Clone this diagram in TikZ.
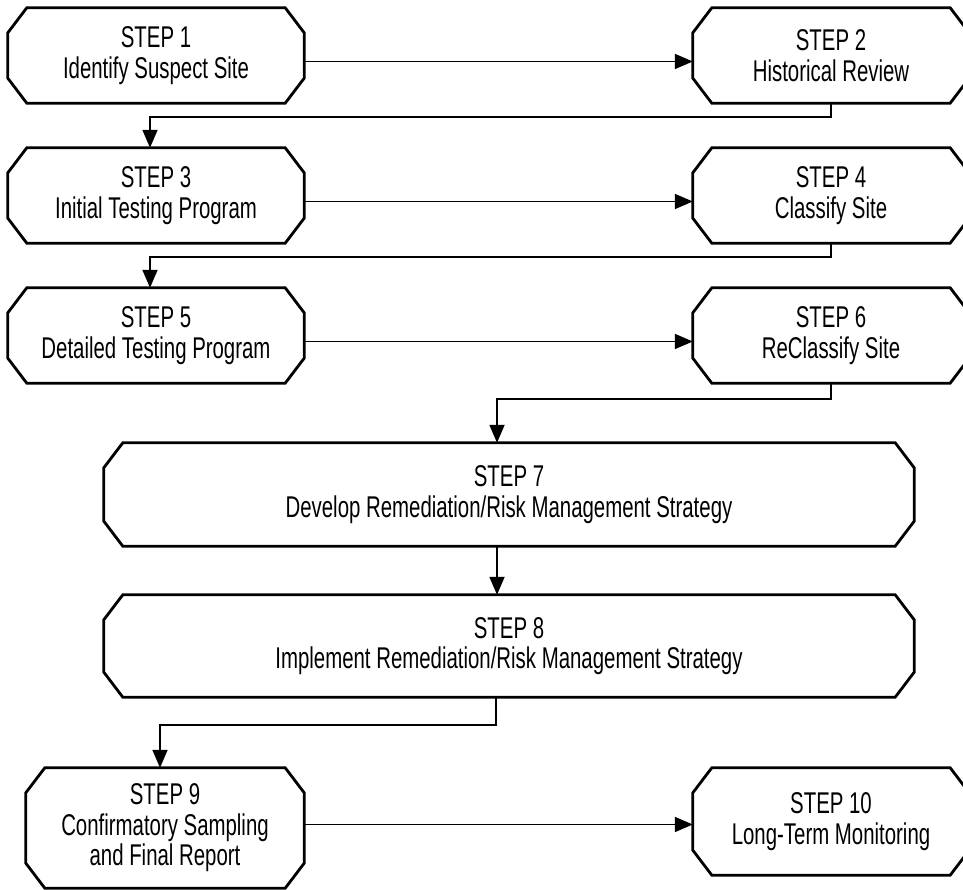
\documentclass[tikz,border=0pt]{standalone}
\usepackage{fontspec}
\setmainfont{Liberation Sans}[FakeStretch=0.68]
\usetikzlibrary{arrows.meta}

\begin{document}
\begin{tikzpicture}[x=1pt,y=1pt,
  stepbox/.style={inner sep=0pt,align=center,font=\fontsize{30}{30.5}\selectfont},
  link/.style={line width=1.8pt,-{Triangle[length=18pt,width=15pt]}}]

\useasboundingbox (0,0) rectangle (963,890);

% left column, right column
\node[stepbox,minimum width=296pt,minimum height=95pt] (s1) at (156,834.5) {STEP 1\\Identify Suspect Site};
\node[stepbox,minimum width=276pt,minimum height=95pt] (s2) at (831,834.5) {STEP 2\\Historical Review};
\node[stepbox,minimum width=296pt,minimum height=95pt] (s3) at (156,694.5) {STEP 3\\Initial Testing Program};
\node[stepbox,minimum width=276pt,minimum height=95pt] (s4) at (831,694.5) {STEP 4\\Classify Site};
\node[stepbox,minimum width=296pt,minimum height=95pt] (s5) at (156,554.5) {STEP 5\\Detailed Testing Program};
\node[stepbox,minimum width=276pt,minimum height=95pt] (s6) at (831,554.5) {STEP 6\\ReClassify Site};

% wide boxes
\node[stepbox,minimum width=810pt,minimum height=103pt] (s7) at (509,395.5) {STEP 7\\Develop Remediation/Risk Management Strategy};
\node[stepbox,minimum width=810pt,minimum height=102pt] (s8) at (509,244) {STEP 8\\Implement Remediation/Risk Management Strategy};

% last row
\node[stepbox,minimum width=278pt,minimum height=120pt] (s9) at (165,62) {STEP 9\\Confirmatory Sampling\\and Final Report};
\node[stepbox,minimum width=276pt,minimum height=107pt] (s10) at (831,68.5) {STEP 10\\Long-Term Monitoring};

\foreach \i in {1,...,10}{
    \draw[line width=2.8pt]
        ([xshift=19pt]s\i.north west) -- ([xshift=-19pt]s\i.north east)
        -- ([yshift=-25pt]s\i.north east) -- ([yshift=25pt]s\i.south east)
        -- ([xshift=-19pt]s\i.south east) -- ([xshift=19pt]s\i.south west)
        -- ([yshift=25pt]s\i.south west) -- ([yshift=-25pt]s\i.north west) -- cycle;
}

\draw[link] ([yshift=-6pt]s1.east) -- ([yshift=-6pt]s2.west);
\draw[link] (s2.south) -- ++(0,-14) -| ([xshift=-6pt]s3.north);
\draw[link] ([yshift=-6pt]s3.east) -- ([yshift=-6pt]s4.west);
\draw[link] (s4.south) -- ++(0,-14) -| ([xshift=-6pt]s5.north);
\draw[link] ([yshift=-6pt]s5.east) -- ([yshift=-6pt]s6.west);
\draw[link] (s6.south) -- ++(0,-16) -| ([xshift=-12pt]s7.north);
\draw[link] ([xshift=-12pt]s7.south) -- ([xshift=-12pt]s8.north);
\draw[link] ([xshift=-13pt]s8.south) -- ++(0,-28) -| ([xshift=-5pt]s9.north);

\coordinate (m10) at ([yshift=-3pt]s10.west);
\draw[link] (s9.east |- m10) -- (m10);

\end{tikzpicture}
\end{document}
